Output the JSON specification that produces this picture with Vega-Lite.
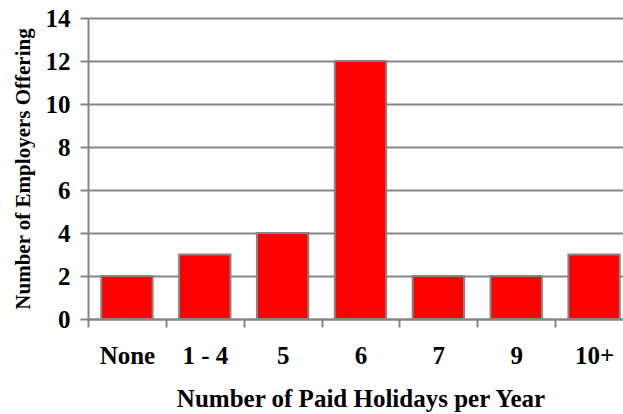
{
  "$schema": "https://vega.github.io/schema/vega-lite/v6.json",
  "autosize": "none",
  "padding": {"left": 88, "top": 18, "right": 0, "bottom": 95},
  "width": 545,
  "height": 301,
  "background": "white",
  "config": {"view": {"stroke": null}, "font": "Liberation Serif"},
  "data": {"values": [
    {"holidays": "None", "employers": 2},
    {"holidays": "1 - 4", "employers": 3},
    {"holidays": "5", "employers": 4},
    {"holidays": "6", "employers": 12},
    {"holidays": "7", "employers": 2},
    {"holidays": "9", "employers": 2},
    {"holidays": "10+", "employers": 3}
  ]},
  "mark": {"type": "bar", "color": "#ff0000", "stroke": "#858585", "strokeWidth": 2},
  "encoding": {
    "x": {
      "field": "holidays", "type": "nominal", "sort": null,
      "scale": {"paddingInner": 0.34, "paddingOuter": 0.17},
      "axis": {
        "title": "Number of Paid Holidays per Year",
        "titleFont": "Liberation Serif", "titleFontSize": 25, "titleFontWeight": "bold", "titleColor": "black",
        "titlePadding": 18,
        "labelAngle": 0, "labelFont": "Liberation Serif", "labelFontSize": 25, "labelFontWeight": "bold", "labelColor": "black",
        "labelPadding": 16,
        "tickOffset": -38.93, "labelOffset": 38.93,
        "tickSize": 8, "tickColor": "#858585", "tickWidth": 2,
        "domainColor": "#858585", "domainWidth": 2, "grid": false
      }
    },
    "y": {
      "field": "employers", "type": "quantitative",
      "scale": {"domain": [0, 14]},
      "axis": {
        "title": "Number of Employers Offering",
        "titleFont": "Liberation Serif", "titleFontSize": 21, "titleFontWeight": "bold", "titleColor": "black",
        "titlePadding": 12,
        "values": [0, 2, 4, 6, 8, 10, 12, 14],
        "labelFont": "Liberation Serif", "labelFontSize": 25, "labelFontWeight": "bold", "labelColor": "black",
        "labelPadding": 10,
        "tickSize": 8, "tickColor": "#858585", "tickWidth": 2,
        "domainColor": "#858585", "domainWidth": 2,
        "grid": true, "gridColor": "#858585", "gridWidth": 2
      }
    }
  }
}
